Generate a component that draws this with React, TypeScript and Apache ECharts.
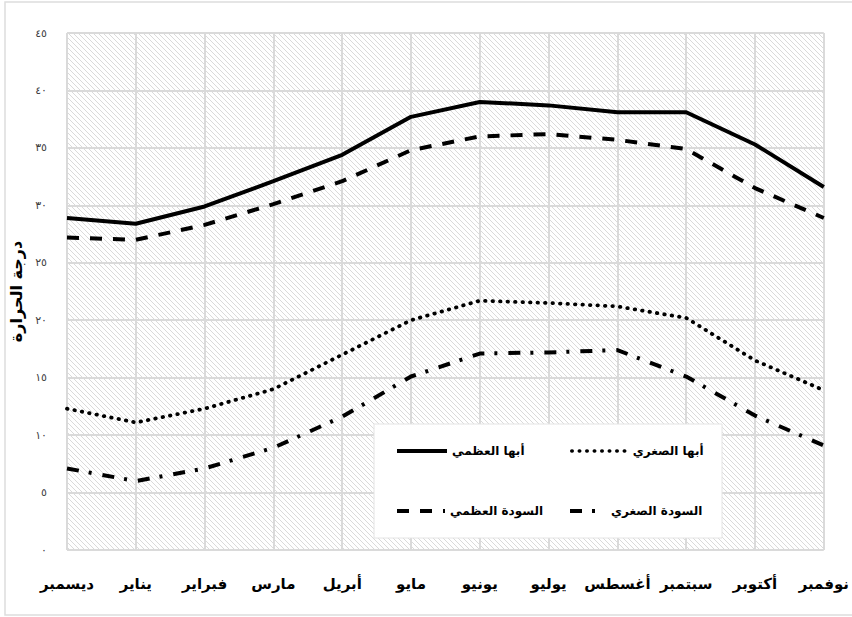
import React, { useEffect, useRef } from "react";
import * as echarts from "echarts";

// Months, December through November
const months = [
  "ديسمبر",
  "يناير",
  "فبراير",
  "مارس",
  "أبريل",
  "مايو",
  "يونيو",
  "يوليو",
  "أغسطس",
  "سبتمبر",
  "أكتوبر",
  "نوفمبر",
];

// Monthly temperatures (°C)
const abhaMax = [28.9, 28.4, 29.9, 32.1, 34.4, 37.7, 39.0, 38.7, 38.1, 38.1, 35.3, 31.6];
const sawdahMax = [27.2, 27.0, 28.3, 30.1, 32.1, 34.8, 36.0, 36.2, 35.7, 34.9, 31.5, 28.9];
const abhaMin = [12.3, 11.1, 12.3, 14.0, 17.0, 20.0, 21.7, 21.5, 21.2, 20.2, 16.5, 13.9];
const sawdahMin = [7.1, 6.0, 7.1, 8.9, 11.6, 15.1, 17.1, 17.2, 17.4, 15.1, 11.7, 9.1];

// Y tick labels in Arabic-Indic digits, one per step of 5
const yTickLabels = ["٠", "٥", "١٠", "١٥", "٢٠", "٢٥", "٣٠", "٣٥", "٤٠", "٤٥"];

const seriesNames = ["أبها العظمي", "أبها الصغري", "السودة العظمي", "السودة الصغري"];
const yAxisTitle = "درجة الحرارة";

const FONT = "'DejaVu Sans', sans-serif";

// Dash patterns for the four lines
const solidDash = "solid";
const dottedDash = [0.5, 7];
const dashedDash = [12, 11];
const dashDotDash = [12, 10, 3, 11];

function hatchTile(): HTMLCanvasElement {
  const s = 5;
  const c = document.createElement("canvas");
  c.width = s;
  c.height = s;
  const g = c.getContext("2d")!;
  g.fillStyle = "#ffffff";
  g.fillRect(0, 0, s, s);
  g.strokeStyle = "#dadada";
  g.lineWidth = 1;
  g.beginPath();
  g.moveTo(-1, -1);
  g.lineTo(s + 1, s + 1);
  g.moveTo(-1, s - 1);
  g.lineTo(1, s + 1);
  g.moveTo(s - 1, -1);
  g.lineTo(s + 1, 1);
  g.stroke();
  return c;
}

export default function App() {
  const ref = useRef<HTMLDivElement>(null);

  useEffect(() => {
    if (!ref.current) return;
    const chart = echarts.init(ref.current, undefined, { renderer: "svg" });

    const legendText = {
      fontFamily: FONT,
      fontWeight: "bold" as const,
      fontSize: 12,
      color: "#000",
    };

    const legendItem = (
      name: string,
      left: number,
      top: number,
      w: number,
      lw: number,
      dash: any,
      cap: "butt" | "round"
    ) => ({
      data: [name],
      left,
      top,
      padding: 0,
      itemWidth: w,
      itemHeight: 14,
      itemGap: 0,
      textStyle: legendText,
      selectedMode: false,
      itemStyle: { opacity: 0, borderWidth: 0 },
      lineStyle: { width: lw, type: dash, cap, color: "#000" },
      z: 6,
    });

    chart.setOption({
      animation: false,
      backgroundColor: "#ffffff",
      grid: {
        left: 60,
        right: 25,
        top: 33,
        bottom: 67,
        show: true,
        backgroundColor: { image: hatchTile(), repeat: "repeat" },
        borderWidth: 0,
      },
      xAxis: {
        type: "category",
        data: months,
        boundaryGap: false,
        axisLine: { show: false },
        axisTick: { show: false },
        axisLabel: {
          interval: 0,
          margin: 26,
          fontFamily: FONT,
          fontWeight: "bold",
          fontSize: 15,
          color: "#000",
        },
        splitLine: { show: true, lineStyle: { color: "#dadada", width: 2 } },
      },
      yAxis: {
        type: "value",
        min: 0,
        max: 45,
        interval: 5,
        name: yAxisTitle,
        nameLocation: "middle",
        nameRotate: 90,
        nameGap: 43,
        nameTextStyle: {
          fontFamily: FONT,
          fontWeight: "bold",
          fontSize: 16,
          color: "#000",
        },
        axisLine: { show: false },
        axisTick: { show: false },
        axisLabel: {
          margin: 20,
          fontFamily: FONT,
          fontSize: 11,
          color: "#404040",
          formatter: (v: number) => yTickLabels[Math.round(v / 5)] ?? "",
        },
        splitLine: { lineStyle: { color: "#dadada", width: 2 } },
      },
      legend: [
        legendItem(seriesNames[0], 395, 445, 50, 4, solidDash, "butt"),
        legendItem(seriesNames[1], 570, 445, 56, 3.5, dottedDash, "round"),
        legendItem(seriesNames[2], 395, 505, 48, 4, dashedDash, "butt"),
        legendItem(seriesNames[3], 568, 505, 36, 4, dashDotDash, "butt"),
      ],
      graphic: [
        {
          type: "rect",
          z: 4,
          shape: { x: 374, y: 424, width: 348, height: 114 },
          style: { fill: "#ffffff", stroke: "#e4e4e4", lineWidth: 1 },
        },
        {
          type: "rect",
          z: 0,
          silent: true,
          shape: { x: 5, y: 2, width: 880, height: 613 },
          style: { fill: "none", stroke: "#dddddd", lineWidth: 1.5 },
        },
      ],
      series: [
        {
          name: seriesNames[0],
          type: "line",
          data: abhaMax,
          symbol: "none",
          lineStyle: { color: "#000", width: 4, type: solidDash },
          itemStyle: { color: "#000" },
        },
        {
          name: seriesNames[1],
          type: "line",
          data: abhaMin,
          symbol: "none",
          lineStyle: { color: "#000", width: 3.8, type: dottedDash, cap: "round" },
          itemStyle: { color: "#000" },
        },
        {
          name: seriesNames[2],
          type: "line",
          data: sawdahMax,
          symbol: "none",
          lineStyle: { color: "#000", width: 4, type: dashedDash },
          itemStyle: { color: "#000" },
        },
        {
          name: seriesNames[3],
          type: "line",
          data: sawdahMin,
          symbol: "none",
          lineStyle: { color: "#000", width: 4, type: dashDotDash },
          itemStyle: { color: "#000" },
        },
      ],
    });

    return () => chart.dispose();
  }, []);

  return (
    <div
      ref={ref}
      style={{
        position: "fixed",
        left: 0,
        top: 0,
        width: 852,
        height: 617,
        background: "#ffffff",
      }}
    />
  );
}
